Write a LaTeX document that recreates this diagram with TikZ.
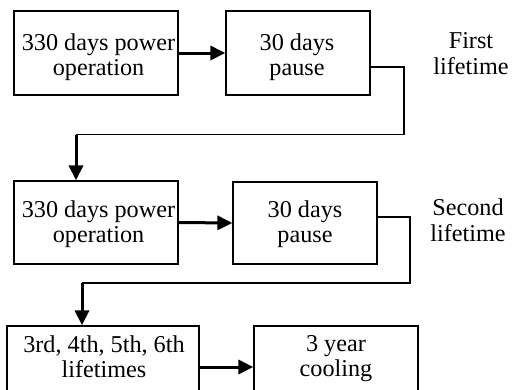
\documentclass[tikz,border=0pt]{standalone}
\usepackage{fontspec}
\setmainfont{Liberation Serif}
\usetikzlibrary{arrows.meta,calc}
\begin{document}
\begin{tikzpicture}[x=1pt,y=-1pt,
  box/.style={draw,line width=1.2pt,rectangle,inner sep=0pt},
  txt/.style={align=center,inner sep=0pt,font=\fontsize{24.2}{25}\selectfont},
  lbl/.style={align=center,inner sep=0pt,font=\fontsize{24.2}{26}\selectfont},
  flow/.style={line width=3pt,-{Triangle[length=15pt,width=14pt]}},
  link/.style={line width=1.3pt}]
\useasboundingbox (0,0) rectangle (515,389);
\clip (0,0) rectangle (515,389);
\node[box,minimum width=164pt,minimum height=84pt] (b1) at (96,53) {};
\node[box,minimum width=144pt,minimum height=84pt] (b2) at (298,53) {};
\node[box,minimum width=164pt,minimum height=83pt] (b3) at (96,222.5) {};
\node[box,minimum width=144pt,minimum height=82pt] (b4) at (305,223) {};
\node[box,minimum width=192pt,minimum height=65pt] (b5) at (103,358.5) {};
\node[box,minimum width=164pt,minimum height=65pt] (b6) at (336,358.5) {};
\node[txt] (t1) at (98.5,57.5) {330 days power\\operation};
\node[txt] (t2) at (297,57) {30 days\\pause};
\node[txt] (t3) at (98.5,224) {330 days power\\operation};
\node[txt] (t4) at (305,224.5) {30 days\\pause};
\node[txt] (t5) at (104,357) {3rd, 4th, 5th, 6th\\lifetimes};
\node[txt] (t6) at (336,359) {3 year\\cooling};
\node[lbl] (l1) at (471,54) {First\\lifetime};
\node[lbl] (l2) at (468,220) {Second\\lifetime};
\coordinate (c1) at (404,134.5);
\coordinate (c2) at (76,134.5);
\coordinate (c3) at (410,283);
\coordinate (c4) at (82,283);
\draw[flow] (b1.east) -- (b2.west);
\draw[flow] (b3.east) -- (b4.west);
\draw[flow] ($(b5.east)+(0,8.5)$) -- ($(b6.west)+(0,8.5)$);
\draw[link] ($(b2.east)+(0,14)$) -| (c1) -- (c2);
\draw[flow] (c2) -- (c2 |- b3.north);
\draw[link] ($(b4.east)+(0,-6)$) -| (c3) -- (c4);
\draw[flow] (c4) -- (c4 |- b5.north);
\end{tikzpicture}
\end{document}
